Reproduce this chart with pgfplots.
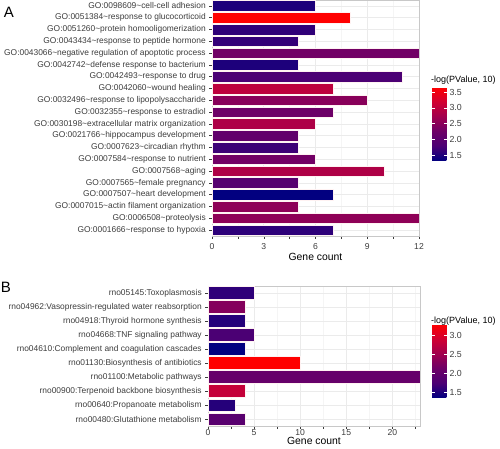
\documentclass[border=0pt]{standalone}
\usepackage{pgfplots}
\pgfplotsset{compat=1.18}
\usepackage{fontspec}
\setmainfont{Liberation Sans}
\definecolor{gridmaj}{RGB}{235,235,235}
\definecolor{gridmin}{RGB}{245,245,245}
\definecolor{ticktext}{RGB}{60,60,60}
\definecolor{panelborder}{RGB}{200,200,200}
\colorlet{barline}{white!80!pink}

% one bar: row, gene count, -log(P)
\newcommand\gobar[3]{%
  \pgfmathsetmacro\cv{max(0,min(1000,(#3-\pmin)/(\pmax-\pmin)*1000))}%
  \edef\tmp{\noexpand\addplot[xbar, bar width=0.9, bar shift=0pt,
     color of colormap={\cv\space of pv}, fill, draw=barline, line width=0.4pt]
     coordinates {(#2,#1)};}%
  \tmp}

\pgfplotsset{
  colormap={pv}{rgb255=(0,0,128) rgb255=(75,0,116) rgb255=(109,0,103) rgb255=(161,0,78) rgb255=(209,0,50) rgb255=(255,0,0)},
  ggbase/.style={
    scale only axis,
    colormap name=pv,
    axis line style={panelborder},
    tick align=outside,
    major tick length=2.75pt,
    tick style={ticktext, line width=0.5pt},
    ytick pos=left, xtick pos=bottom,
    y dir=reverse,
    xmin=0,
    grid=both,
    major grid style={gridmaj, line width=0.6pt},
    minor grid style={gridmin, line width=0.4pt},
    yticklabel style={font=\fontsize{8.4}{9}\selectfont, text=ticktext},
    xticklabel style={font=\fontsize{8.6}{9}\selectfont, text=ticktext, yshift=-1pt},
    xlabel style={font=\fontsize{10.4}{11}\selectfont, yshift=3pt},
    /pgf/number format/assume math mode=true,
    colorbar,
    colorbar style={
      at={(parent axis.north east)}, anchor=north west,
      width=15pt,
      axis line style={draw=none},
      tick align=inside,
      major tick length=3pt,
      ytick style={white, line width=0.6pt},
      ytick pos=both,
      yticklabel pos=right,
      yticklabel style={font=\fontsize{8.8}{9}\selectfont, text=ticktext, xshift=-1pt,
        /pgf/number format/.cd, fixed, fixed zerofill, precision=1, assume math mode=true},
      ytick={1.5,2,...,3.5},
    },
  },
}

\begin{document}
\begin{tikzpicture}
\path[use as bounding box] (0pt,0pt) rectangle (500pt,449pt);

% Panel A
\def\pmin{1.32}\def\pmax{3.66}
\begin{axis}[ggbase,
  at={(212pt,213pt)}, anchor=south west,
  width=207pt, height=236pt,
  xmax=12, ymin=0.5, ymax=20.5,
  xtick={0,3,6,9,12}, minor xtick={1.5,4.5,7.5,10.5},
  ytick={1,...,20},
  yticklabels={
    GO:0098609\textasciitilde cell-cell adhesion,
    GO:0051384\textasciitilde response to glucocorticoid,
    GO:0051260\textasciitilde protein homooligomerization,
    GO:0043434\textasciitilde response to peptide hormone,
    GO:0043066\textasciitilde negative regulation of apoptotic process,
    GO:0042742\textasciitilde defense response to bacterium,
    GO:0042493\textasciitilde response to drug,
    GO:0042060\textasciitilde wound healing,
    GO:0032496\textasciitilde response to lipopolysaccharide,
    GO:0032355\textasciitilde response to estradiol,
    GO:0030198\textasciitilde extracellular matrix organization,
    GO:0021766\textasciitilde hippocampus development,
    GO:0007623\textasciitilde circadian rhythm,
    GO:0007584\textasciitilde response to nutrient,
    GO:0007568\textasciitilde aging,
    GO:0007565\textasciitilde female pregnancy,
    GO:0007507\textasciitilde heart development,
    GO:0007015\textasciitilde actin filament organization,
    GO:0006508\textasciitilde proteolysis,
    GO:0001666\textasciitilde response to hypoxia},
  xlabel={Gene count},
  point meta min=1.32, point meta max=3.66,
  colorbar style={xshift=4.5pt, yshift=-87pt, height=74pt},
]
\gobar{1}{6}{1.50}
\gobar{2}{8}{3.66}
\gobar{3}{6}{1.62}
\gobar{4}{5}{1.65}
\gobar{5}{12}{2.30}
\gobar{6}{5}{1.50}
\gobar{7}{11}{1.80}
\gobar{8}{7}{3.00}
\gobar{9}{9}{2.50}
\gobar{10}{7}{2.25}
\gobar{11}{6}{2.85}
\gobar{12}{5}{2.10}
\gobar{13}{5}{1.70}
\gobar{14}{6}{2.30}
\gobar{15}{10}{2.85}
\gobar{16}{5}{1.95}
\gobar{17}{7}{1.33}
\gobar{18}{5}{2.55}
\gobar{19}{12}{2.55}
\gobar{20}{7}{1.60}
\end{axis}
\node[anchor=west, font=\fontsize{9}{10}\selectfont, inner sep=0pt] at (431pt,369pt) {-log(PValue, 10)};
\node[font=\fontsize{15}{16}\selectfont, inner sep=0pt] at (9pt,437pt) {A};

% Panel B
\def\pmin{1.36}\def\pmax{3.29}
\begin{axis}[ggbase,
  at={(208pt,23pt)}, anchor=south west,
  width=212pt, height=140pt,
  xmax=23, ymin=0.5, ymax=10.5,
  xtick={0,5,10,15,20}, minor xtick={2.5,7.5,12.5,17.5,22.5},
  ytick={1,...,10},
  yticklabels={
    rno05145:Toxoplasmosis,
    rno04962:Vasopressin-regulated water reabsorption,
    rno04918:Thyroid hormone synthesis,
    rno04668:TNF signaling pathway,
    rno04610:Complement and coagulation cascades,
    rno01130:Biosynthesis of antibiotics,
    rno01100:Metabolic pathways,
    rno00900:Terpenoid backbone biosynthesis,
    rno00640:Propanoate metabolism,
    rno00480:Glutathione metabolism},
  xlabel={Gene count},
  xticklabel style={yshift=1pt, inner sep=1pt},
  xlabel style={yshift=-3pt, inner sep=0pt},
  point meta min=1.36, point meta max=3.29,
  colorbar style={xshift=3.5pt, yshift=-38pt, height=74pt},
]
\gobar{1}{5}{1.60}
\gobar{2}{4}{2.30}
\gobar{3}{4}{1.55}
\gobar{4}{5}{1.75}
\gobar{5}{4}{1.37}
\gobar{6}{10}{3.29}
\gobar{7}{23}{2.05}
\gobar{8}{4}{2.80}
\gobar{9}{3}{1.55}
\gobar{10}{4}{1.90}
\end{axis}
\node[anchor=west, font=\fontsize{9}{10}\selectfont, inner sep=0pt] at (431pt,128pt) {-log(PValue, 10)};
\node[font=\fontsize{15}{16}\selectfont, inner sep=0pt] at (6pt,161.5pt) {B};
\end{tikzpicture}
\end{document}
